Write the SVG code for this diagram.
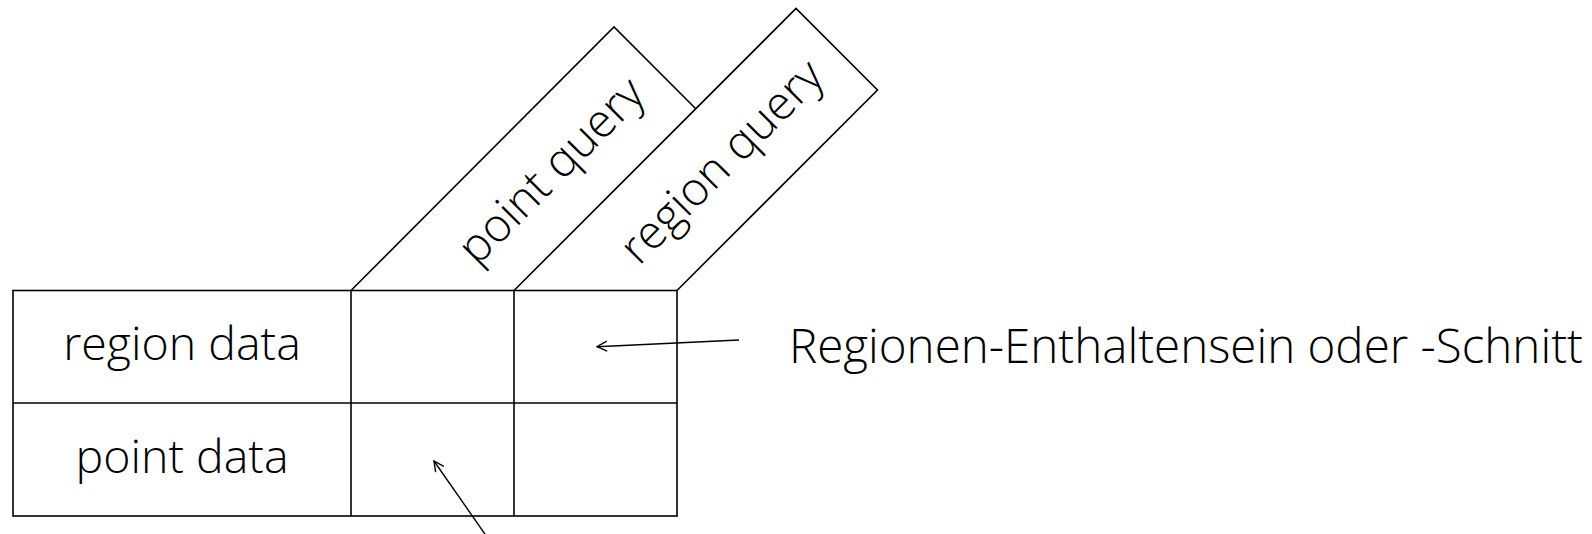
<svg xmlns="http://www.w3.org/2000/svg" width="1592" height="534" viewBox="0 0 1592 534">
<style>
.ln{fill:none;stroke:#000;stroke-width:1.6;stroke-linejoin:miter}
.cn{fill:none;stroke:#000;stroke-width:1.4}
.t{font-family:"Open Sans","Noto Sans",sans-serif;font-weight:300;fill:#000;text-anchor:middle;font-size:46.5px}
.tr{font-family:"Open Sans","Noto Sans",sans-serif;font-weight:300;fill:#000;font-size:47.5px}
</style>
<defs>
<marker id="ah" viewBox="0 0 12 12" refX="11" refY="6" markerWidth="12" markerHeight="12" markerUnits="userSpaceOnUse" orient="auto">
<path d="M1,1 L11,6 L1,11" fill="none" stroke="#000" stroke-width="1.4"/>
</marker>
</defs>
<g id="table">
<rect class="ln" x="13" y="290.5" width="664" height="225.5"/>
<line class="ln" x1="13" y1="403" x2="677" y2="403"/>
<line class="ln" x1="351" y1="290.5" x2="351" y2="516"/>
<line class="ln" x1="514" y1="290.5" x2="514" y2="516"/>
</g>
<g id="row-region">
<text class="t" x="182" y="360">region data</text>
</g>
<g id="row-point">
<text class="t" x="182" y="472.5">point data</text>
</g>
<g id="col-point-query">
<polyline class="ln" points="351,290.5 614,27 695.75,108.75"/>
<text class="t" transform="translate(553,172.5) rotate(-45)" x="0" y="13">point query</text>
</g>
<g id="col-region-query">
<polyline class="ln" points="514,290.5 796,8.5 877.5,90 677,290.5"/>
<text class="t" transform="translate(723.5,163.5) rotate(-45)" x="0" y="13">region query</text>
</g>
<g id="label-region">
<text class="tr" x="789" y="363">Regionen-Enthaltensein oder -Schnitt</text>
</g>
<g id="connectors">
<line class="cn" x1="739" y1="340" x2="597" y2="346.7" marker-end="url(#ah)"/>
<line class="cn" x1="487" y1="537" x2="434" y2="461" marker-end="url(#ah)"/>
</g>
</svg>
